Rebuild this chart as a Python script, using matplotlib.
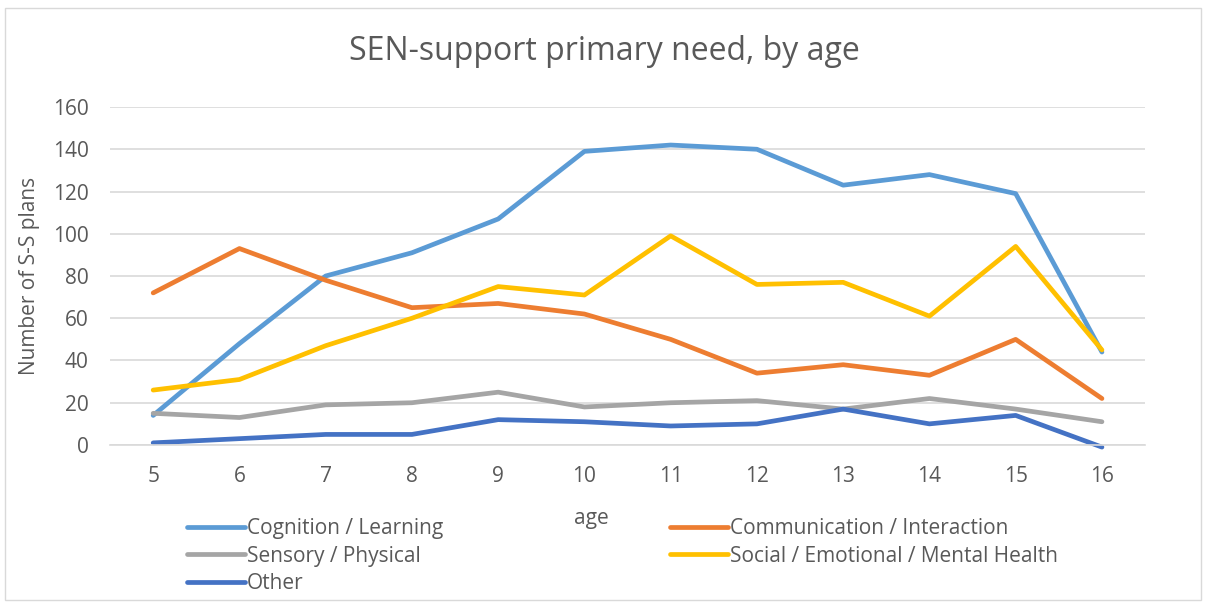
import matplotlib.pyplot as plt
from matplotlib.patches import Rectangle

plt.rcParams['font.family'] = ['Open Sans', 'DejaVu Sans']

# Data
ages = [5, 6, 7, 8, 9, 10, 11, 12, 13, 14, 15, 16]
cognition = [14, 48, 80, 91, 107, 139, 142, 140, 123, 128, 119, 44]
communication = [72, 93, 78, 65, 67, 62, 50, 34, 38, 33, 50, 22]
sensory = [15, 13, 19, 20, 25, 18, 20, 21, 17, 22, 17, 11]
social = [26, 31, 47, 60, 75, 71, 99, 76, 77, 61, 94, 45]
other = [1, 3, 5, 5, 12, 11, 9, 10, 17, 10, 14, -1]

series = [
    ('Cognition / Learning', cognition, '#5B9BD5'),
    ('Communication / Interaction', communication, '#ED7D31'),
    ('Sensory / Physical', sensory, '#A5A5A5'),
    ('Social / Emotional / Mental Health', social, '#FFC000'),
    ('Other', other, '#4472C4'),
]

fig = plt.figure(figsize=(12.08, 6.07), dpi=100)
ax = fig.add_axes([0.0911, 0.2669, 0.8568, 0.5568])

lines = []
for name, vals, col in series:
    ln, = ax.plot(ages, vals, color=col, lw=3.4, label=name,
                  solid_capstyle='round', solid_joinstyle='round', clip_on=False)
    lines.append(ln)

ax.set_xlim(4.5, 16.5)
ax.set_ylim(0, 160)
ax.set_yticks(range(0, 161, 20))
ax.set_xticks(ages)
ax.grid(axis='y', color='#D9D9D9', lw=1.2)
ax.set_axisbelow(True)
for s in ['top', 'right', 'left']:
    ax.spines[s].set_visible(False)
ax.spines['bottom'].set_color('#D9D9D9')
ax.spines['bottom'].set_linewidth(1.2)
ax.tick_params(length=0, labelsize=15, colors='#595959')
ax.tick_params(axis='y', pad=15.5)
ax.tick_params(axis='x', pad=15)

ax.set_xlabel('age', fontsize=15, color='#595959', labelpad=15)
ax.xaxis.label.set_x(0.465)
ax.set_ylabel('Number of S-S plans', fontsize=15, color='#595959', labelpad=9)
fig.text(0.5, 0.915, 'SEN-support primary need, by age', ha='center', va='center',
         fontsize=23, color='#595959')

# legend reads row by row like the original; matplotlib fills columns first
order = [0, 2, 4, 1, 3]
fig.legend([lines[i] for i in order], [series[i][0] for i in order],
           loc='upper left', bbox_to_anchor=(0.155, 0.146), ncol=2, frameon=False,
           fontsize=15, labelcolor='#595959', handlelength=2.75, handletextpad=0.12,
           columnspacing=10.9, labelspacing=0.3, borderaxespad=0, borderpad=0)

fig.patches.append(Rectangle((0.004, 0.012), 0.99, 0.975, transform=fig.transFigure,
                             fill=False, edgecolor='#D9D9D9', lw=1))

fig.savefig('out.png', dpi=100)
